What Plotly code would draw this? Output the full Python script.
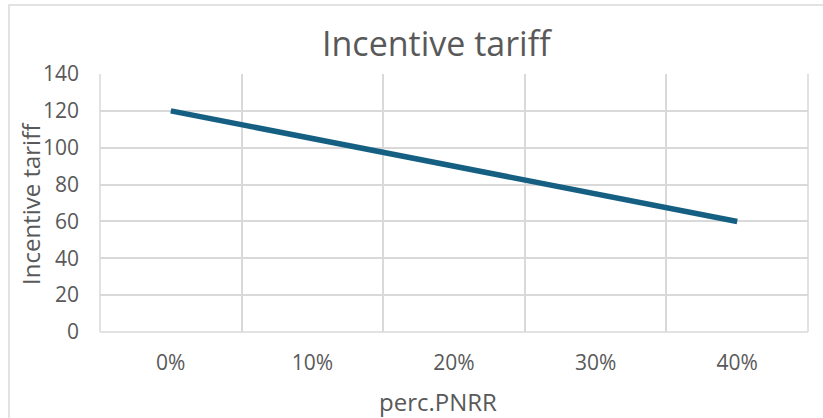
import plotly.graph_objects as go

# Incentive tariff as a function of the PNRR share
categories = ["0%", "10%", "20%", "30%", "40%"]
tariff = [120, 105, 90, 75, 60]
y_ticks = [0, 20, 40, 60, 80, 100, 120, 140]

W, H = 823, 418
L, R, T, B = 100, 15, 74, 86
plot_w = W - L - R
plot_h = H - T - B

FONT = "Open Sans"
TEXT = "#595959"
GRID = "#d9d9d9"
LINE = "#156082"


def px_x(px):
    return (px - L) / plot_w


def px_y(py):
    return (H - B - py) / plot_h


fig = go.Figure()
fig.add_trace(go.Scatter(
    x=categories,
    y=tariff,
    mode="lines",
    line=dict(color=LINE, width=5.5),
    hoverinfo="x+y",
    showlegend=False,
))

fig.update_layout(
    width=W,
    height=H,
    margin=dict(l=L, r=R, t=T, b=B),
    paper_bgcolor="white",
    plot_bgcolor="white",
    font=dict(family=FONT, color=TEXT),
    xaxis=dict(
        type="category",
        categoryorder="array",
        categoryarray=categories,
        range=[-0.5, len(categories) - 0.5],
        tickson="boundaries",
        showgrid=True,
        gridcolor=GRID,
        gridwidth=1.5,
        showline=False,
        zeroline=False,
        ticks="",
        tickfont=dict(family=FONT, size=21, color=TEXT),
        ticklabelstandoff=16,
        fixedrange=True,
    ),
    yaxis=dict(
        range=[0, 140],
        tickvals=y_ticks,
        showgrid=True,
        gridcolor=GRID,
        gridwidth=1.5,
        showline=False,
        zeroline=False,
        ticks="",
        tickfont=dict(family=FONT, size=21, color=TEXT),
        ticklabelstandoff=20,
        fixedrange=True,
    ),
    shapes=[
        # plot-area frame
        dict(type="line", xref="paper", yref="paper", x0=1, x1=1, y0=0, y1=1,
             line=dict(color=GRID, width=1.5), layer="below"),
        dict(type="line", xref="paper", yref="paper", x0=0, x1=1, y0=0, y1=0,
             line=dict(color=GRID, width=1.5), layer="below"),
        dict(type="line", xref="paper", yref="paper", x0=0, x1=0, y0=0, y1=1,
             line=dict(color=GRID, width=1.5), layer="below"),
        # chart-area border
        dict(type="rect", xref="paper", yref="paper",
             x0=px_x(9), x1=px_x(W + 20), y0=px_y(H + 20), y1=px_y(5),
             line=dict(color=GRID, width=1.5), fillcolor="rgba(0,0,0,0)"),
    ],
    annotations=[
        dict(text="Incentive tariff", xref="paper", yref="paper",
             x=px_x(437), y=px_y(43), xanchor="center", yanchor="middle",
             showarrow=False, font=dict(family=FONT, size=34, color=TEXT)),
        dict(text="perc.PNRR", xref="paper", yref="paper",
             x=px_x(438), y=px_y(401), xanchor="center", yanchor="middle",
             showarrow=False, font=dict(family=FONT, size=24, color=TEXT)),
        dict(text="Incentive tariff", xref="paper", yref="paper",
             x=px_x(30), y=px_y(204), xanchor="center", yanchor="middle",
             textangle=-90, showarrow=False,
             font=dict(family=FONT, size=24, color=TEXT)),
    ],
)

fig.write_html("out.html")
